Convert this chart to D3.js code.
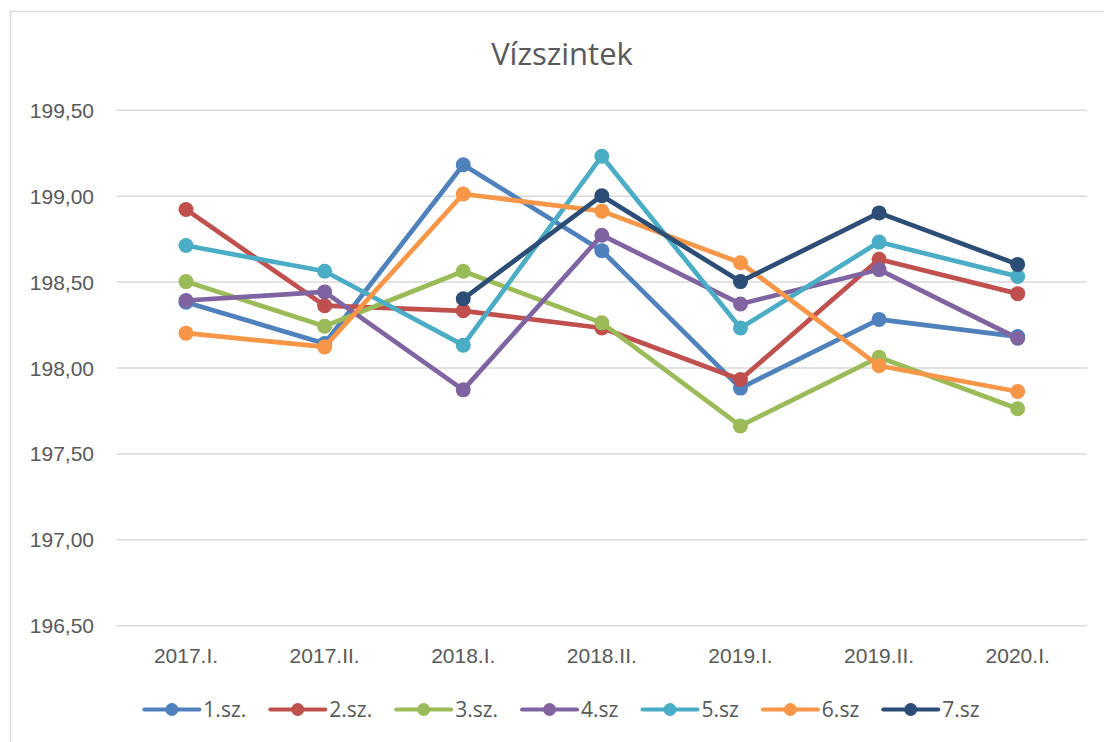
<!DOCTYPE html>
<html>
<head>
<meta charset="utf-8">
<script src="https://cdn.jsdelivr.net/npm/d3@7"></script>
<style>
  html, body { margin: 0; padding: 0; background: #fff; }
  svg { display: block; font-family: "Open Sans", "Noto Sans", sans-serif; }
</style>
</head>
<body>
<div id="chart"></div>
<script>
const categories = ["2017.I.", "2017.II.", "2018.I.", "2018.II.", "2019.I.", "2019.II.", "2020.I."];
const seriesNames = ["1.sz.", "2.sz.", "3.sz.", "4.sz", "5.sz", "6.sz", "7.sz"];
const s1 = [198.38, 198.14, 199.18, 198.68, 197.88, 198.28, 198.18];
const s2 = [198.92, 198.36, 198.33, 198.23, 197.93, 198.63, 198.43];
const s3 = [198.50, 198.24, 198.56, 198.26, 197.66, 198.06, 197.76];
const s4 = [198.39, 198.44, 197.87, 198.77, 198.37, 198.57, 198.17];
const s5 = [198.71, 198.56, 198.13, 199.23, 198.23, 198.73, 198.53];
const s6 = [198.20, 198.12, 199.01, 198.91, 198.61, 198.01, 197.86];
const s7 = [null, null, 198.40, 199.00, 198.50, 198.90, 198.60];
const yTicks = [196.5, 197, 197.5, 198, 198.5, 199, 199.5];

const colors = ["#4F81BD", "#C0504D", "#9BBB59", "#8064A2", "#4BACC6", "#F79646", "#2C4D75"];
const allSeries = [s1, s2, s3, s4, s5, s6, s7];

const width = 1104, height = 742;
const plot = { left: 116.7, right: 1087, top: 109.8, bottom: 625.2 };
const textColor = "#595959";
const gridColor = "#D9D9D9";

const svg = d3.select("#chart").append("svg")
  .attr("width", width)
  .attr("height", height);

svg.append("rect")
  .attr("x", 10.5).attr("y", 11.5)
  .attr("width", 1200).attr("height", 800)
  .attr("fill", "#fff")
  .attr("stroke", gridColor)
  .attr("stroke-width", 1.5);

svg.append("text")
  .attr("x", 562).attr("y", 65)
  .attr("text-anchor", "middle")
  .attr("fill", textColor)
  .style("font-size", "31px")
  .text("Vízszintek");

const x = d3.scaleBand().domain(categories).range([plot.left, plot.right]).padding(0);
const y = d3.scaleLinear().domain([196.5, 199.5]).range([plot.bottom, plot.top]);

const huFormat = d3.formatLocale({ decimal: ",", thousands: " ", grouping: [3], currency: ["", " Ft"] }).format(".2f");

// y axis with gridlines
const yAxis = svg.append("g")
  .attr("transform", `translate(${plot.left},0)`)
  .call(d3.axisLeft(y).tickValues(yTicks).tickFormat(huFormat)
    .tickSize(-(plot.right - plot.left)).tickPadding(22.7));
yAxis.select(".domain").remove();
yAxis.selectAll(".tick line").attr("stroke", gridColor).attr("stroke-width", 1.5);
yAxis.selectAll(".tick text")
  .attr("fill", textColor)
  .style("font-size", "21px")
  .attr("dy", "0.36em");

// x axis labels
const xAxis = svg.append("g")
  .attr("transform", `translate(0,${plot.bottom})`)
  .call(d3.axisBottom(x).tickSize(0));
xAxis.select(".domain").remove();
xAxis.selectAll(".tick text")
  .attr("fill", textColor)
  .style("font-size", "21px")
  .attr("y", 38)
  .attr("dy", 0);

const cx = d => x(d) + x.bandwidth() / 2;

const line = d3.line()
  .defined(d => d.v != null)
  .x(d => cx(d.c))
  .y(d => y(d.v));

allSeries.forEach((vals, i) => {
  const pts = vals.map((v, j) => ({ c: categories[j], v }));
  const g = svg.append("g");
  g.append("path")
    .datum(pts)
    .attr("d", line)
    .attr("fill", "none")
    .attr("stroke", colors[i])
    .attr("stroke-width", 4.7)
    .attr("stroke-linejoin", "round")
    .attr("stroke-linecap", "round");
  g.selectAll("circle")
    .data(pts.filter(d => d.v != null))
    .join("circle")
    .attr("cx", d => cx(d.c))
    .attr("cy", d => y(d.v))
    .attr("r", 7.5)
    .attr("fill", colors[i]);
});

// legend
const legend = svg.append("g");
const legendY = 709.5;
let lx = 0;
seriesNames.forEach((name, i) => {
  const item = legend.append("g").attr("transform", `translate(${lx},0)`);
  item.append("line")
    .attr("x1", 0).attr("x2", 55)
    .attr("y1", legendY).attr("y2", legendY)
    .attr("stroke", colors[i])
    .attr("stroke-width", 4)
    .attr("stroke-linecap", "round");
  item.append("circle")
    .attr("cx", 27.5).attr("cy", legendY)
    .attr("r", 6.5)
    .attr("fill", colors[i]);
  const t = item.append("text")
    .attr("x", 59).attr("y", legendY + 7.5)
    .attr("fill", textColor)
    .style("font-size", "21px")
    .text(name);
  lx += 59 + t.node().getComputedTextLength() + 24;
});
const legendW = lx - 24;
legend.attr("transform", `translate(${562 - legendW / 2},0)`);
</script>
</body>
</html>
